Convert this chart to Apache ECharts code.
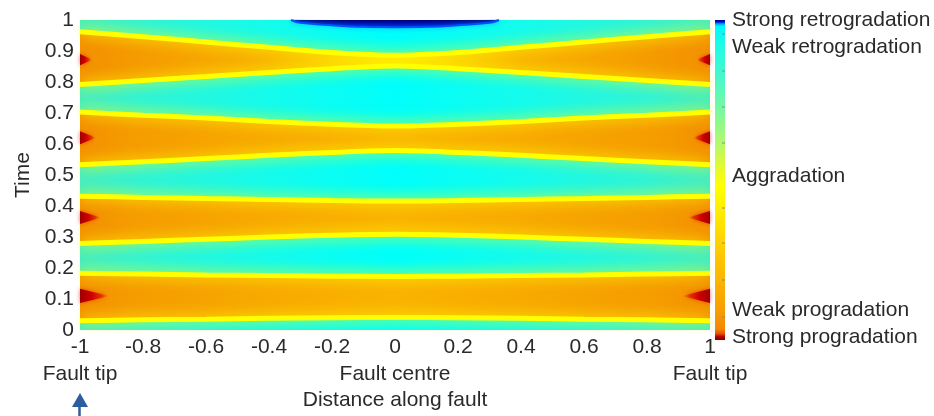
<!DOCTYPE html>
<html>
<head>
<meta charset="utf-8">
<title>Distance along fault vs time</title>
<script src="https://cdn.jsdelivr.net/npm/echarts@6/dist/echarts.min.js"></script>
<style>
  html, body { margin: 0; padding: 0; background: #fff; }
  #main { width: 934px; height: 416px; }
</style>
</head>
<body>
<div id="main"></div>
<script>
var distance = [-1, -0.8, -0.6, -0.4, -0.2, 0, 0.2, 0.4, 0.6, 0.8, 1];

// yellow edges of the four orange (progradation) bands, from the top down
var edge1 = [0.962, 0.946, 0.929, 0.912, 0.895, 0.886, 0.895, 0.912, 0.929, 0.946, 0.962];
var edge2 = [0.792, 0.805, 0.818, 0.831, 0.843, 0.852, 0.843, 0.831, 0.818, 0.805, 0.792];
var edge3 = [0.703, 0.693, 0.684, 0.673, 0.664, 0.658, 0.664, 0.673, 0.684, 0.693, 0.703];
var edge4 = [0.533, 0.543, 0.553, 0.564, 0.573, 0.579, 0.573, 0.564, 0.553, 0.543, 0.533];
var edge5 = [0.432, 0.428, 0.424, 0.421, 0.418, 0.416, 0.418, 0.421, 0.424, 0.428, 0.432];
var edge6 = [0.279, 0.286, 0.293, 0.300, 0.306, 0.309, 0.306, 0.300, 0.293, 0.286, 0.279];
var edge7 = [0.183, 0.181, 0.178, 0.176, 0.174, 0.173, 0.174, 0.176, 0.178, 0.181, 0.183];
var edge8 = [0.030, 0.033, 0.035, 0.038, 0.040, 0.041, 0.040, 0.038, 0.035, 0.033, 0.030];

// strong progradation spikes at the two tips
var spikeTime = [0.872, 0.62, 0.363, 0.11];
var spikeHalf = [0.018, 0.021, 0.021, 0.023];
var spikeTipLeft = [-0.962, -0.95, -0.935, -0.908];
var spikeTipRight = [0.958, 0.947, 0.931, 0.913];

// strong retrogradation lens at the end
var lensDistance = [-0.33, -0.3, -0.2, -0.1, 0, 0.1, 0.2, 0.3, 0.33];
var lensTime = [1, 0.991, 0.983, 0.978, 0.977, 0.978, 0.983, 0.991, 1];

// colour bar labels
var barLabels = ['Strong retrogradation', 'Weak retrogradation', 'Aggradation', 'Weak progradation', 'Strong progradation'];
var barLabelY = [20, 47, 176, 310, 337];
var barTickY = [34, 71, 107, 143, 208, 243, 280, 317];

var FONT = '"Liberation Sans", Arial, sans-serif';
var TXT = '#2a2a2a';

function hgrad(stops) {
    return { type: 'linear', x: 0, y: 0, x2: 1, y2: 0, colorStops: stops.map(function (s) { return { offset: s[0], color: s[1] }; }) };
}

var cyan = hgrad([[0, '#46edc0'], [0.1, '#30f4d6'], [0.3, '#14fbec'], [0.5, '#00fffb'], [0.7, '#14fbec'], [0.9, '#30f4d6'], [1, '#46edc0']]);
var orange = hgrad([[0, '#f39000'], [0.08, '#f59c00'], [0.3, '#f8aa00'], [0.5, '#fab300'], [0.7, '#f8aa00'], [0.92, '#f59c00'], [1, '#f39000']]);
var orangeTop = hgrad([[0, '#f39000'], [0.1, '#f59c00'], [0.3, '#f9b200'], [0.42, '#fdd000'], [0.5, '#ffe000'], [0.58, '#fdd000'], [0.7, '#f9b200'], [0.9, '#f59c00'], [1, '#f39000']]);

function zip(xs, ys) {
    return xs.map(function (x, i) { return [x, ys[i]]; });
}

var edges = [edge1, edge2, edge3, edge4, edge5, edge6, edge7, edge8];
var series = edges.map(function (e, i) {
    var fill = i % 2 === 1 ? cyan : (i === 0 ? orangeTop : orange);
    return {
        type: 'line',
        data: zip(distance, e),
        smooth: 0.3,
        symbol: 'none',
        silent: true,
        lineStyle: { color: '#ffff00', width: 5, shadowBlur: 14, shadowColor: '#ffff00' },
        areaStyle: { origin: 'start', color: fill, opacity: 1 }
    };
});

var spikeData = [];
spikeTime.forEach(function (t, i) {
    spikeData.push([-1, spikeTipLeft[i], t, spikeHalf[i]]);
    spikeData.push([1, spikeTipRight[i], t, spikeHalf[i]]);
});

series.push({
    type: 'custom',
    silent: true,
    encode: { x: 0, y: 2 },
    data: spikeData,
    z: 3,
    renderItem: function (params, api) {
        var base = api.value(0), tip = api.value(1), t = api.value(2), h = api.value(3);
        var a = api.coord([base, t + h]);
        var b = api.coord([base, t - h]);
        var c = api.coord([tip, t]);
        var left = base < 0;
        return {
            type: 'polygon',
            shape: { points: [a, c, b] },
            style: {
                fill: new echarts.graphic.LinearGradient(left ? 0 : 1, 0, left ? 1 : 0, 0, [
                    { offset: 0, color: '#a00000' },
                    { offset: 0.4, color: '#cf0000' },
                    { offset: 0.75, color: 'rgba(230,40,0,0.85)' },
                    { offset: 1, color: 'rgba(240,120,0,0.3)' }
                ]),
                shadowBlur: 4,
                shadowColor: 'rgba(210,20,0,0.6)'
            }
        };
    }
});

series.push({
    type: 'line',
    data: zip(lensDistance, lensTime),
    smooth: 0.4,
    symbol: 'none',
    silent: true,
    z: 4,
    lineStyle: { color: '#0050ff', width: 2, shadowBlur: 5, shadowColor: '#00a0ff' },
    areaStyle: {
        origin: 'end', opacity: 1,
        color: { type: 'linear', x: 0, y: 0, x2: 0, y2: 1, colorStops: [{ offset: 0, color: '#000080' }, { offset: 1, color: '#0000c8' }] }
    }
});

var graphics = [{
    type: 'rect',
    left: 715, top: 20,
    shape: { width: 10, height: 320 },
    style: {
        fill: new echarts.graphic.LinearGradient(0, 0, 0, 1, [
            { offset: 0, color: '#000090' },
            { offset: 0.006, color: '#0010d0' },
            { offset: 0.012, color: '#00a0ff' },
            { offset: 0.02, color: '#00f8ff' },
            { offset: 0.08, color: '#20fbe6' },
            { offset: 0.18, color: '#48f8c8' },
            { offset: 0.28, color: '#78f8a0' },
            { offset: 0.38, color: '#b0f870' },
            { offset: 0.47, color: '#e8fa28' },
            { offset: 0.52, color: '#ffff00' },
            { offset: 0.6, color: '#ffec00' },
            { offset: 0.7, color: '#ffd000' },
            { offset: 0.8, color: '#fcb800' },
            { offset: 0.9, color: '#f8a000' },
            { offset: 0.965, color: '#f48800' },
            { offset: 0.98, color: '#e85000' },
            { offset: 0.99, color: '#b00000' },
            { offset: 1, color: '#800000' }
        ])
    }
}];
barTickY.forEach(function (y) {
    graphics.push({ type: 'line', shape: { x1: 722, y1: y, x2: 725, y2: y }, style: { stroke: '#8a8a8a', lineWidth: 1 } });
});
barLabels.forEach(function (s, i) {
    graphics.push({
        type: 'text', x: 732, y: barLabelY[i],
        style: { text: s, font: '21px ' + FONT, fill: TXT, align: 'left', verticalAlign: 'middle', textAlign: 'left', textVerticalAlign: 'middle' }
    });
});
// arrow under the left tip
graphics.push({ type: 'polygon', shape: { points: [[72, 407], [88, 407], [80, 393]] }, style: { fill: '#2c5d9e' } });
graphics.push({ type: 'line', shape: { x1: 79.5, y1: 406, x2: 79.5, y2: 416 }, style: { stroke: '#2c5d9e', lineWidth: 2.5 } });

var chart = echarts.init(document.getElementById('main'));
chart.setOption({
    animation: false,
    backgroundColor: '#fff',
    grid: { left: 80, right: 224, top: 20, bottom: 82, show: true, borderWidth: 0, backgroundColor: cyan },
    xAxis: [{
        type: 'value', min: -1, max: 1, interval: 0.2,
        axisLine: { show: false }, axisTick: { show: false }, splitLine: { show: false },
        axisLabel: { fontSize: 21, color: TXT, fontFamily: FONT, margin: 7 }
    }, {
        type: 'value', min: -1, max: 1, interval: 1, position: 'bottom', offset: 27,
        axisLine: { show: false }, axisTick: { show: false }, splitLine: { show: false },
        axisLabel: {
            fontSize: 21, color: TXT, fontFamily: FONT, margin: 7,
            formatter: function (v) { return v === 0 ? 'Fault centre' : 'Fault tip'; }
        },
        name: 'Distance along fault', nameLocation: 'middle', nameGap: 30,
        nameTextStyle: { fontSize: 21, color: TXT, fontFamily: FONT }
    }],
    yAxis: {
        type: 'value', min: 0, max: 1, interval: 0.1,
        axisLine: { show: false }, axisTick: { show: false }, splitLine: { show: false },
        axisLabel: { fontSize: 21, color: TXT, fontFamily: FONT, margin: 6 },
        name: 'Time', nameLocation: 'middle', nameGap: 42,
        nameTextStyle: { fontSize: 21, color: TXT, fontFamily: FONT }
    },
    graphic: graphics,
    series: series
});
</script>
</body>
</html>
